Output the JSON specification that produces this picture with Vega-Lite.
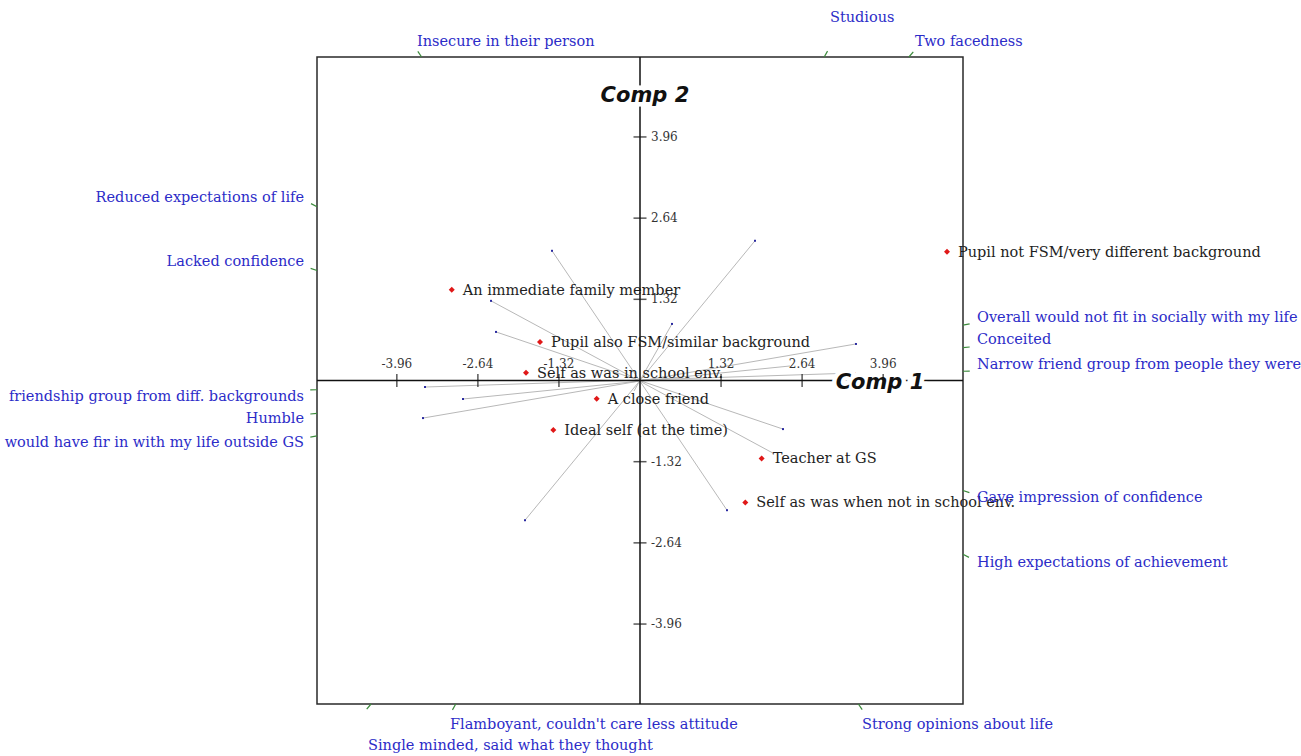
{
  "$schema": "https://vega.github.io/schema/vega-lite/v6.json",
  "width": 646,
  "height": 647,
  "autosize": {"type": "none"},
  "padding": {"left": 317, "top": 57, "right": 338, "bottom": 52},
  "background": "white",
  "config": {"view": {"stroke": "#2a2a2a", "strokeWidth": 1.5}},
  "datasets": {
    "vectors": [
      {"construct": "Insecure / Strong opinions", "x": -1.433, "y": 2.109, "x2": 1.417, "y2": -2.109},
      {"construct": "Two facedness / Single minded", "x": 1.873, "y": 2.272, "x2": -1.873, "y2": -2.272},
      {"construct": "Reduced / High expectations", "x": -2.426, "y": 1.295, "x2": 2.166, "y2": -1.181},
      {"construct": "Lacked / Gave confidence", "x": -2.345, "y": 0.79, "x2": 2.329, "y2": -0.79},
      {"construct": "Studious / Flamboyant", "x": 0.521, "y": 0.92, "x2": -0.098, "y2": -0.171},
      {"construct": "Would not fit / would fit", "x": 3.517, "y": 0.594, "x2": -3.534, "y2": -0.611},
      {"construct": "Narrow / wide friend group", "x": 3.501, "y": 0.122, "x2": -3.501, "y2": -0.106},
      {"construct": "Humble / Conceited", "x": -2.882, "y": -0.301, "x2": 2.443, "y2": 0.236}
    ],
    "vectorEnds": [
      {"x": -1.433, "y": 2.109}, {"x": 1.417, "y": -2.109},
      {"x": 1.873, "y": 2.272}, {"x": -1.873, "y": -2.272},
      {"x": -2.426, "y": 1.295},
      {"x": -2.345, "y": 0.79}, {"x": 2.329, "y": -0.79},
      {"x": 0.521, "y": 0.92},
      {"x": 3.517, "y": 0.594}, {"x": -3.534, "y": -0.611},
      {"x": 3.501, "y": 0.122}, {"x": -3.501, "y": -0.106},
      {"x": -2.882, "y": -0.301}
    ],
    "poleTicks": [
      {"x": -3.556, "y": 5.26, "x2": -3.618, "y2": 5.351},
      {"x": 3.556, "y": -5.26, "x2": 3.618, "y2": -5.351},
      {"x": 4.38, "y": 5.26, "x2": 4.45, "y2": 5.345},
      {"x": -4.38, "y": -5.26, "x2": -4.45, "y2": -5.345},
      {"x": -5.26, "y": 2.824, "x2": -5.357, "y2": 2.876},
      {"x": 5.26, "y": -2.824, "x2": 5.357, "y2": -2.876},
      {"x": -5.26, "y": 1.789, "x2": -5.364, "y2": 1.824},
      {"x": 5.26, "y": -1.789, "x2": 5.364, "y2": -1.824},
      {"x": 3.0, "y": 5.26, "x2": 3.054, "y2": 5.356},
      {"x": -3.0, "y": -5.26, "x2": -3.054, "y2": -5.356},
      {"x": 5.26, "y": 0.901, "x2": 5.368, "y2": 0.92},
      {"x": -5.26, "y": -0.901, "x2": -5.368, "y2": -0.92},
      {"x": 5.26, "y": 0.15, "x2": 5.37, "y2": 0.154},
      {"x": -5.26, "y": -0.15, "x2": -5.37, "y2": -0.154},
      {"x": -5.26, "y": -0.534, "x2": -5.369, "y2": -0.545},
      {"x": 5.26, "y": 0.534, "x2": 5.369, "y2": 0.545}
    ],
    "poleLabels": [
      {"label": "Insecure in their person", "side": "top", "x": -3.631, "y": 5.512},
      {"label": "Studious", "side": "top", "x": 3.094, "y": 5.887},
      {"label": "Two facedness", "side": "top", "x": 4.478, "y": 5.512},
      {"label": "Reduced expectations of life", "side": "left", "x": -5.471, "y": 2.972},
      {"label": "Lacked confidence", "side": "left", "x": -5.471, "y": 1.93},
      {"label": "friendship group from diff. backgrounds", "side": "left", "x": -5.471, "y": -0.268},
      {"label": "Humble", "side": "left", "x": -5.471, "y": -0.627},
      {"label": "would have fir in with my life outside GS", "side": "left", "x": -5.471, "y": -1.02},
      {"label": "Overall would not fit in socially with my life", "side": "right", "x": 5.488, "y": 1.018},
      {"label": "Conceited", "side": "right", "x": 5.488, "y": 0.66},
      {"label": "Narrow friend group from people they were", "side": "right", "x": 5.488, "y": 0.252},
      {"label": "Gave impression of confidence", "side": "right", "x": 5.488, "y": -1.913},
      {"label": "High expectations of achievement", "side": "right", "x": 5.488, "y": -2.972},
      {"label": "Flamboyant, couldn't care less attitude", "side": "bottom", "x": -3.094, "y": -5.594},
      {"label": "Strong opinions about life", "side": "bottom", "x": 3.615, "y": -5.594},
      {"label": "Single minded, said what they thought", "side": "bottom", "x": -4.429, "y": -5.936}
    ],
    "elements": [
      {"element": "Pupil not FSM/very different background", "x": 4.999, "y": 2.093},
      {"element": "An immediate family member", "x": -3.066, "y": 1.474},
      {"element": "Pupil also FSM/similar background", "x": -1.628, "y": 0.627},
      {"element": "Self as was in school env.", "x": -1.856, "y": 0.127},
      {"element": "A close friend", "x": -0.705, "y": -0.296},
      {"element": "Ideal self (at the time)", "x": -1.412, "y": -0.806},
      {"element": "Teacher at GS", "x": 1.981, "y": -1.267},
      {"element": "Self as was when not in school env.", "x": 1.715, "y": -1.983}
    ],
    "xticks": [
      {"x": -3.96, "label": "-3.96"}, {"x": -2.64, "label": "-2.64"}, {"x": -1.32, "label": "-1.32"},
      {"x": 1.32, "label": "1.32"}, {"x": 2.64, "label": "2.64"}, {"x": 3.96, "label": "3.96"}
    ],
    "yticks": [
      {"y": 3.96, "label": "3.96"}, {"y": 2.64, "label": "2.64"}, {"y": 1.32, "label": "1.32"},
      {"y": -1.32, "label": "-1.32"}, {"y": -2.64, "label": "-2.64"}, {"y": -3.96, "label": "-3.96"}
    ],
    "axisLines": [
      {"x": -5.26, "y": 0, "x2": 5.26, "y2": 0},
      {"x": 0, "y": -5.26, "x2": 0, "y2": 5.26}
    ],
    "titles": [
      {"t": "Comp 1", "x": 3.908, "y": -0.04},
      {"t": "Comp 2", "x": 0.08, "y": 4.633}
    ]
  },
  "layer": [
    {
      "data": {"name": "vectors"},
      "mark": {"type": "rule", "color": "#b8b8b8", "strokeWidth": 1},
      "encoding": {
        "x": {"field": "x", "type": "quantitative", "scale": {"domain": [-5.26, 5.26], "nice": false, "zero": false}, "axis": null},
        "y": {"field": "y", "type": "quantitative", "scale": {"domain": [-5.26, 5.26], "nice": false, "zero": false}, "axis": null},
        "x2": {"field": "x2"}, "y2": {"field": "y2"}
      }
    },
    {
      "data": {"name": "vectorEnds"},
      "mark": {"type": "square", "color": "#2a2aa0", "filled": true, "size": 4, "opacity": 1},
      "encoding": {
        "x": {"field": "x", "type": "quantitative"},
        "y": {"field": "y", "type": "quantitative"}
      }
    },
    {
      "data": {"name": "poleTicks"},
      "mark": {"type": "rule", "color": "#3c8a3c", "strokeWidth": 1.2},
      "encoding": {
        "x": {"field": "x", "type": "quantitative"},
        "y": {"field": "y", "type": "quantitative"},
        "x2": {"field": "x2"}, "y2": {"field": "y2"}
      }
    },
    {
      "data": {"name": "elements"},
      "mark": {"type": "text", "align": "left", "baseline": "middle", "dx": 11, "dy": 1, "font": "DejaVu Serif", "fontSize": 14.5, "color": "#1e1e1e"},
      "encoding": {
        "x": {"field": "x", "type": "quantitative"},
        "y": {"field": "y", "type": "quantitative"},
        "text": {"field": "element"}
      }
    },
    {
      "data": {"name": "elements"},
      "mark": {"type": "point", "shape": "diamond", "filled": true, "color": "#e01818", "size": 36, "opacity": 1},
      "encoding": {
        "x": {"field": "x", "type": "quantitative"},
        "y": {"field": "y", "type": "quantitative"}
      }
    },
    {
      "data": {"name": "axisLines"},
      "mark": {"type": "rule", "color": "#111111", "strokeWidth": 1.5},
      "encoding": {
        "x": {"field": "x", "type": "quantitative"},
        "y": {"field": "y", "type": "quantitative"},
        "x2": {"field": "x2"}, "y2": {"field": "y2"}
      }
    },
    {
      "data": {"name": "titles"},
      "mark": {"type": "text", "align": "center", "baseline": "middle", "font": "DejaVu Sans", "fontSize": 21, "fontWeight": "bold", "fontStyle": "italic", "color": "white", "stroke": "white", "strokeWidth": 9},
      "encoding": {
        "x": {"field": "x", "type": "quantitative"},
        "y": {"field": "y", "type": "quantitative"},
        "text": {"field": "t"}
      }
    },
    {
      "data": {"name": "xticks"},
      "mark": {"type": "tick", "orient": "vertical", "color": "#111111", "size": 13, "thickness": 1.5},
      "encoding": {
        "x": {"field": "x", "type": "quantitative"},
        "y": {"datum": 0, "type": "quantitative"}
      }
    },
    {
      "data": {"name": "yticks"},
      "mark": {"type": "tick", "orient": "horizontal", "color": "#111111", "size": 13, "thickness": 1.5},
      "encoding": {
        "y": {"field": "y", "type": "quantitative"},
        "x": {"datum": 0, "type": "quantitative"}
      }
    },
    {
      "data": {"name": "xticks"},
      "mark": {"type": "text", "align": "center", "baseline": "middle", "dy": -17, "font": "DejaVu Serif", "fontSize": 12, "color": "#333333"},
      "encoding": {
        "x": {"field": "x", "type": "quantitative"},
        "y": {"datum": 0, "type": "quantitative"},
        "text": {"field": "label"}
      }
    },
    {
      "data": {"name": "yticks"},
      "mark": {"type": "text", "align": "left", "baseline": "middle", "dx": 11, "font": "DejaVu Serif", "fontSize": 12, "color": "#333333"},
      "encoding": {
        "y": {"field": "y", "type": "quantitative"},
        "x": {"datum": 0, "type": "quantitative"},
        "text": {"field": "label"}
      }
    },
    {
      "data": {"name": "poleLabels"},
      "transform": [{"filter": "datum.side === 'left'"}],
      "mark": {"type": "text", "align": "right", "baseline": "middle", "font": "DejaVu Serif", "fontSize": 14.5, "color": "#2c2cc8"},
      "encoding": {
        "x": {"field": "x", "type": "quantitative"},
        "y": {"field": "y", "type": "quantitative"},
        "text": {"field": "label"}
      }
    },
    {
      "data": {"name": "poleLabels"},
      "transform": [{"filter": "datum.side !== 'left'"}],
      "mark": {"type": "text", "align": "left", "baseline": "middle", "font": "DejaVu Serif", "fontSize": 14.5, "color": "#2c2cc8"},
      "encoding": {
        "x": {"field": "x", "type": "quantitative"},
        "y": {"field": "y", "type": "quantitative"},
        "text": {"field": "label"}
      }
    },
    {
      "data": {"name": "titles"},
      "mark": {"type": "text", "align": "center", "baseline": "middle", "font": "DejaVu Sans", "fontSize": 21, "fontWeight": "bold", "fontStyle": "italic", "color": "#111111"},
      "encoding": {
        "x": {"field": "x", "type": "quantitative"},
        "y": {"field": "y", "type": "quantitative"},
        "text": {"field": "t"}
      }
    }
  ]
}
